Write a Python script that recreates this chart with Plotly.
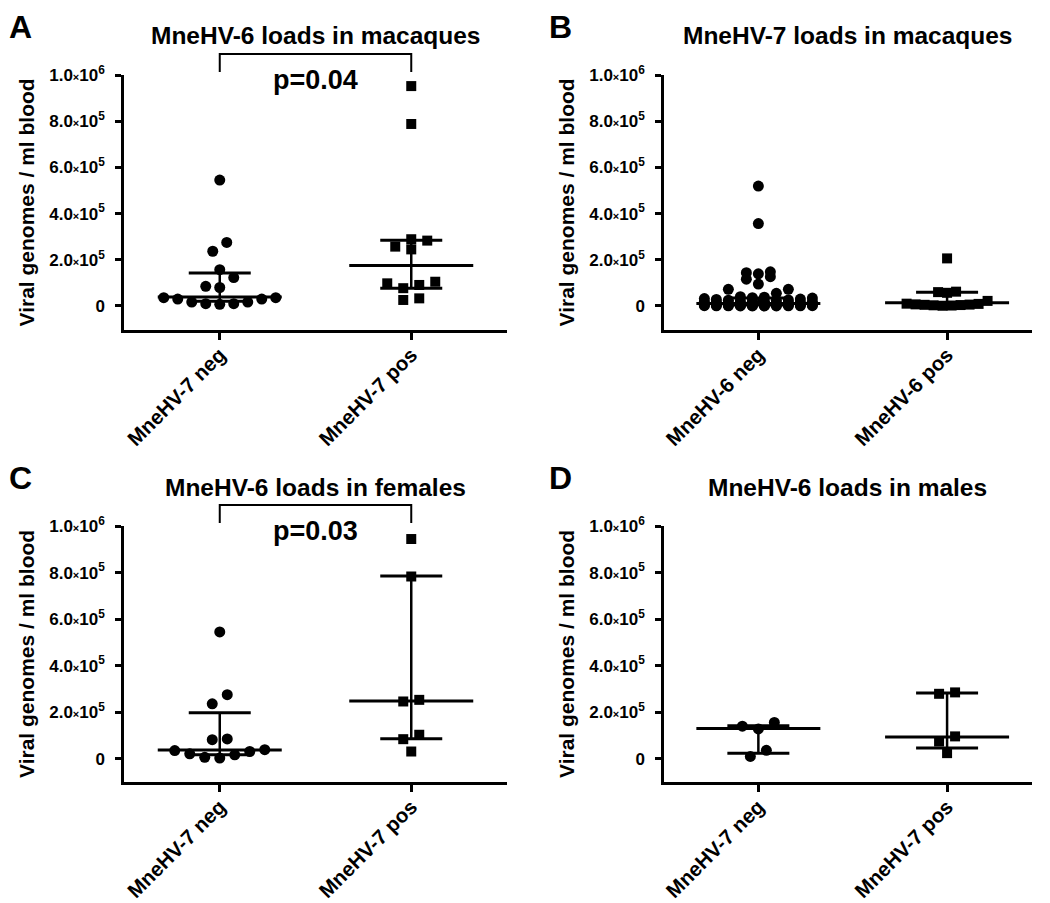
import plotly.graph_objects as go

# window is 1050x903; the page body has a small margin, so the figure is a bit smaller
WIN_W, WIN_H = 1050, 903
OFF_X, OFF_Y = 6, 8
W, H = WIN_W - OFF_X, WIN_H - OFF_Y

# ---------------- data ----------------
A_categories = ["MneHV-7 neg", "MneHV-7 pos"]
A_neg = [545000, 275000, 237000, 157000, 123000, 85000, 80000,
         36000, 30000, 17000, 10000, 7000, 10000, 17000, 30000, 36000]
A_pos = [952000, 788000, 289000, 283000, 257000, 245000,
         105000, 98000, 91000, 77000, 33000, 26000]
A_neg_stats = [20000, 39000, 143000]   # q1, median, q3
A_pos_stats = [77000, 175000, 285000]

B_categories = ["MneHV-6 neg", "MneHV-6 pos"]
B_neg = [519000, 357000, 148000, 144000, 139000, 127000, 116000, 95000, 72000, 72000, 55000,
         40000, 38000, 36000, 34000, 32000, 30000, 28000, 26000, 25000, 24000, 22000, 21000,
         20000, 19000, 18000, 16000, 15000, 14000, 13000, 12500, 12000, 11500, 11000, 10000,
         9500, 9000, 8500, 8000, 7500, 7000, 6500, 6000, 5500, 5000, 4500, 4000, 3800, 3500,
         3000, 2800, 2500, 2000, 1800, 1500, 1200, 1000, 800, 600, 500, 400, 300, 200, 100]
B_pos = [206000, 62000, 60000, 57000, 22000, 10000, 9000, 7000, 6000, 5000, 4000, 3000, 2000, 1000]
B_neg_stats = [4000, 11000, 35000]
B_pos_stats = [5000, 14000, 59000]

C_categories = ["MneHV-7 neg", "MneHV-7 pos"]
C_neg = [545000, 275000, 236000, 85000, 82000, 39000, 35000, 31000, 21000, 17000, 6000, 3000]
C_pos = [944000, 783000, 253000, 246000, 103000, 84000, 31000]
C_neg_stats = [17000, 37000, 198000]
C_pos_stats = [86000, 248000, 785000]

D_categories = ["MneHV-7 neg", "MneHV-7 pos"]
D_neg = [156000, 140000, 128000, 36000, 10000]
D_pos = [285000, 279000, 96000, 74000, 24000]
D_neg_stats = [24000, 130000, 142000]
D_pos_stats = [46000, 93000, 282000]

Y_TICKVALS = [0, 200000, 400000, 600000, 800000, 1000000]
Y_TICKTEXT = ["0"] + [f"{m}.0<span style='font-size:11px'>×</span>10<sup>{e}</sup>"
                      for m, e in [(2, 5), (4, 5), (6, 5), (8, 5), (1, 6)]]

TITLES = ["MneHV-6 loads in macaques", "MneHV-7 loads in macaques",
          "MneHV-6 loads in females", "MneHV-6 loads in males"]
LETTERS = ["A", "B", "C", "D"]
PTEXT = ["p=0.04", None, "p=0.03", None]
Y_TITLE = "Viral genomes / ml blood"

# ---------------- layout config ----------------
FONT = "Liberation Sans, Arial, Helvetica, sans-serif"


def px_x(x):
    return (x - OFF_X) / W


def px_y(y):
    return 1 - (y - OFF_Y) / H


# plot boxes in window pixels: (left, right, top, bottom)
BOX_A = (122, 505, 75, 330)
BOX_B = (662, 1030, 75, 330)
BOX_C = (122, 505, 526, 782)
BOX_D = (662, 1030, 526, 782)

panels = [
    dict(cats=A_categories, groups=[(A_neg, A_neg_stats, "circle", 11, 14, 9),
                                    (A_pos, A_pos_stats, "square", 10, 16, 9)],
         box=BOX_A, xr=[-0.5, 1.5], yr=[-104000, 1000000]),
    dict(cats=B_categories, groups=[(B_neg, B_neg_stats, "circle", 11, 12, 10),
                                    (B_pos, B_pos_stats, "square", 10, 9, 10)],
         box=BOX_B, xr=[-0.5, 1.45], yr=[-104000, 1000000]),
    dict(cats=C_categories, groups=[(C_neg, C_neg_stats, "circle", 11, 15, 9),
                                    (C_pos, C_pos_stats, "square", 10, 16, 9)],
         box=BOX_C, xr=[-0.5, 1.5], yr=[-100000, 1000000]),
    dict(cats=D_categories, groups=[(D_neg, D_neg_stats, "circle", 11, 16, 9),
                                    (D_pos, D_pos_stats, "square", 10, 16, 9)],
         box=BOX_D, xr=[-0.5, 1.45], yr=[-100000, 1000000]),
]


def swarm(values, ppx, ppy, spacing, tol, maxrow):
    vals = sorted(values)
    rows = []
    for v in vals:
        if rows and (v - rows[-1][0]) * ppy <= tol and len(rows[-1]) < maxrow:
            rows[-1].append(v)
        else:
            rows.append([v])
    xs, ys = [], []
    for row in rows:
        n = len(row)
        slots = [(i - (n - 1) / 2) * spacing for i in range(n)]
        slots.sort(key=lambda s: (abs(s), s))
        for v, s in zip(row, slots):
            xs.append(s / ppx)
            ys.append(v)
    return xs, ys


fig = go.Figure()
annotations = []
shapes = []

for k, p in enumerate(panels):
    sfx = "" if k == 0 else str(k + 1)
    xref, yref = "x" + sfx, "y" + sfx
    left, right, top, bottom = p["box"]
    dx = [px_x(left), px_x(right)]
    dy = [px_y(bottom), px_y(top)]
    ppx = (right - left) / (p["xr"][1] - p["xr"][0])
    ppy = (bottom - top) / (p["yr"][1] - p["yr"][0])

    for ci, (vals, stats, sym, msize, spacing, maxrow) in enumerate(p["groups"]):
        offs, ys = swarm(vals, ppx, ppy, spacing, 10, maxrow)
        fig.add_trace(go.Scatter(
            x=[ci + o for o in offs], y=ys, mode="markers", xaxis=xref, yaxis=yref,
            marker=dict(symbol=sym, size=msize, color="black", line=dict(width=0)),
            cliponaxis=False, showlegend=False, hoverinfo="y"))
        q1, med, q3 = stats
        hm, hc = 62 / ppx, 31 / ppx
        fig.add_trace(go.Scatter(
            x=[ci - hm, ci + hm, None, ci - hc, ci + hc, None, ci - hc, ci + hc],
            y=[med, med, None, q1, q1, None, q3, q3],
            mode="lines", line=dict(color="black", width=3), xaxis=xref, yaxis=yref,
            showlegend=False, hoverinfo="skip", cliponaxis=False))
        fig.add_trace(go.Scatter(
            x=[ci, ci], y=[q1, q3], mode="lines", line=dict(color="black", width=2.5),
            xaxis=xref, yaxis=yref, showlegend=False, hoverinfo="skip"))

    common = dict(showline=True, linecolor="black", linewidth=2.5, ticks="outside",
                  tickcolor="black", tickwidth=2.5, showgrid=False, zeroline=False,
                  fixedrange=True, automargin=False)
    fig.update_layout(**{
        ("xaxis" + sfx): dict(common, domain=dx, range=p["xr"], anchor=yref,
                              tickvals=[0, 1], ticktext=p["cats"], tickangle=-45, ticklen=7,
                              ticklabelstandoff=-5,
                              tickfont=dict(family=FONT, size=20.5, color="black", weight="bold")),
        ("yaxis" + sfx): dict(common, domain=dy, range=p["yr"], anchor=xref,
                              tickvals=Y_TICKVALS, ticktext=Y_TICKTEXT, ticklen=6,
                              ticklabelstandoff=7,
                              tickfont=dict(family=FONT, size=17, color="black", weight="bold")),
    })

    xc = (dx[0] + dx[1]) / 2
    # title
    annotations.append(dict(text=TITLES[k], xref="paper", yref="paper", x=xc,
                            y=px_y(top - 39), xanchor="center", yanchor="middle",
                            showarrow=False,
                            font=dict(family=FONT, size=24.5, color="black", weight="bold")))
    # panel letter (box top kept inside the figure)
    annotations.append(dict(text=LETTERS[k], xref="paper", yref="paper",
                            x=px_x(left - 104), y=px_y(max(top - 67, OFF_Y)),
                            xanchor="center", yanchor="top", showarrow=False, borderpad=0,
                            font=dict(family=FONT, size=32, color="black", weight="bold")))
    # y title
    annotations.append(dict(text=Y_TITLE, xref="paper", yref="paper",
                            x=px_x(left - 98), y=(dy[0] + dy[1]) / 2,
                            textangle=-90, xanchor="center", yanchor="middle",
                            showarrow=False,
                            font=dict(family=FONT, size=21, color="black", weight="bold")))
    if PTEXT[k]:
        yb = px_y(top - 21)
        yt = px_y(top - 3)
        shapes.append(dict(type="path", xref=xref, yref="paper",
                           path=f"M 0,{yt} L 0,{yb} L 1,{yb} L 1,{yt}",
                           line=dict(color="black", width=2)))
        annotations.append(dict(text=PTEXT[k], xref=xref, yref="paper", x=0.5,
                                y=px_y(top + 5), xanchor="center", yanchor="middle",
                                showarrow=False,
                                font=dict(family=FONT, size=27, color="black", weight="bold")))

fig.update_layout(template="none", width=W, height=H, margin=dict(l=0, r=0, t=0, b=0),
                  paper_bgcolor="white", plot_bgcolor="white",
                  annotations=annotations, shapes=shapes, showlegend=False)

fig.write_html("out.html")
